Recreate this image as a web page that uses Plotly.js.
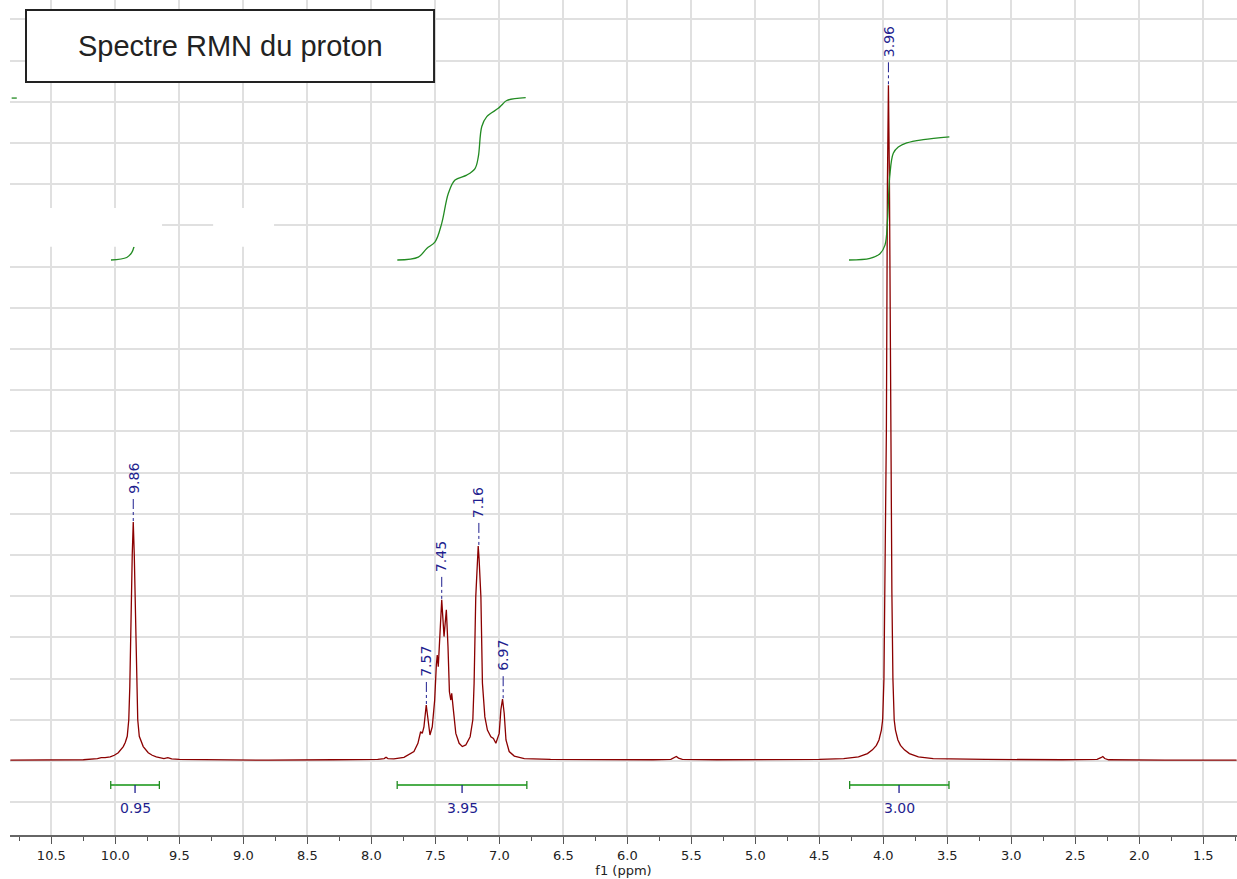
<!DOCTYPE html>
<html>
<head>
<meta charset="utf-8">
<script src="https://cdn.plot.ly/plotly-3.0.1.min.js"></script>
<style>html,body{margin:0;padding:0;background:#fff;}#chart{width:1237px;height:879px;}</style>
</head>
<body>
<div id="chart"></div>
<script>
// ---- Spectrum (chemical shift in ppm, intensity in grid units) ----
const spectrumPpm = [
  10.82, 10.55, 10.25, 10.14, 10.11, 10.08, 10.04, 10.008, 9.977, 9.938, 9.9225, 9.907, 9.895, 9.887, 9.882,
  9.868, 9.86, 9.852, 9.838, 9.833, 9.825, 9.813, 9.7975, 9.782, 9.743, 9.712, 9.68, 9.62, 9.59, 9.56,
  9.50, 9.2, 8.8, 8.3, 7.95, 7.90, 7.885, 7.87, 7.85, 7.824, 7.745, 7.667, 7.636, 7.615, 7.602,
  7.589, 7.571, 7.555, 7.542, 7.524, 7.505, 7.492, 7.485, 7.477, 7.463, 7.450, 7.432, 7.414, 7.401, 7.390,
  7.379, 7.372, 7.359, 7.340, 7.314, 7.289, 7.262, 7.228, 7.207, 7.197, 7.184, 7.173, 7.165, 7.158, 7.144,
  7.132, 7.113, 7.093, 7.066, 7.046, 7.027, 7.001, 6.988, 6.975, 6.962, 6.948, 6.923, 6.883, 6.805, 6.60,
  6.20, 5.80, 5.66, 5.635, 5.617, 5.60, 5.57, 5.30, 4.80, 4.50, 4.31, 4.194, 4.124, 4.085, 4.054,
  4.034, 4.015, 4.005, 3.995, 3.987, 3.976, 3.968, 3.960, 3.952, 3.944, 3.933, 3.925, 3.915, 3.905, 3.886,
  3.866, 3.835, 3.796, 3.726, 3.61, 3.2, 2.6, 2.33, 2.30, 2.285, 2.27, 2.24, 1.8, 1.24
];
const spectrumIntensity = [
  0.02, 0.02, 0.03, 0.06, 0.08, 0.08, 0.10, 0.14, 0.20, 0.35, 0.45, 0.6, 1.0, 1.8, 2.9,
  5.0, 5.8, 5.0, 2.9, 1.8, 1.0, 0.6, 0.45, 0.35, 0.2, 0.14, 0.1, 0.06, 0.08, 0.05,
  0.04, 0.03, 0.02, 0.03, 0.04, 0.06, 0.09, 0.06, 0.05, 0.05, 0.09, 0.23, 0.43, 0.71, 0.67,
  0.83, 1.36, 0.91, 0.63, 0.83, 1.48, 2.33, 2.57, 2.29, 3.26, 3.91, 3.02, 3.67, 2.77, 1.68,
  1.48, 1.64, 1.24, 0.67, 0.43, 0.35, 0.39, 0.59, 1.0, 1.89, 3.99, 4.9, 5.22, 4.9, 3.99,
  1.89, 1.07, 0.75, 0.59, 0.55, 0.43, 0.67, 1.24, 1.5, 1.16, 0.51, 0.23, 0.12, 0.06, 0.04,
  0.03, 0.03, 0.04, 0.08, 0.11, 0.07, 0.04, 0.03, 0.03, 0.04, 0.06, 0.10, 0.18, 0.27, 0.38,
  0.51, 0.75, 1.0, 2.0, 4.07, 8.0, 14.0, 16.4, 14.0, 8.0, 4.07, 2.0, 1.0, 0.75, 0.51,
  0.38, 0.27, 0.18, 0.1, 0.06, 0.04, 0.03, 0.04, 0.08, 0.11, 0.06, 0.03, 0.02, 0.02
];

// ---- Peak picking labels ----
const peakLabels = ['9.86', '7.57', '7.45', '7.16', '6.97', '3.96'];
const peakPpm    = [9.86, 7.57, 7.45, 7.16, 6.97, 3.96];
const peakTop    = [5.8, 1.36, 3.91, 5.22, 1.5, 16.4];

// ---- Integration ranges ----
const integralFrom  = [10.036, 7.798, 4.263];
const integralTo    = [9.656, 6.785, 3.487];
const integralMid   = [9.846, 7.291, 3.877];
const integralValue = ['0.95', '3.95', '3.00'];

// ---- Integral curves (visible parts) ----
const integ1Ppm = [10.034, 9.911, 9.872, 9.854];
const integ1Val = [12.16, 12.22, 12.34, 12.48];
const integ1bPpm = [10.81, 10.77];
const integ1bVal = [16.09, 16.09];
const integ2Ppm = [7.797, 7.633, 7.567, 7.502, 7.45, 7.398, 7.346, 7.255, 7.19, 7.164, 7.137, 7.098, 7.008, 6.981, 6.942, 6.794];
const integ2Val = [12.16, 12.23, 12.44, 12.6, 13.05, 13.78, 14.1, 14.22, 14.38, 14.67, 15.4, 15.64, 15.84, 15.92, 16.03, 16.1];
const integ3Ppm = [4.268, 4.104, 4.026, 3.987, 3.967, 3.95, 3.922, 3.883, 3.817, 3.688, 3.484];
const integ3Val = [12.16, 12.2, 12.31, 12.52, 13.13, 14.18, 14.75, 14.9, 15.0, 15.08, 15.15];

const RED = '#8b0000', GREEN = '#228b22', BARGREEN = '#4cae4c', NAVY = '#1f1f8f';
const FONT = 'DejaVu Sans, Verdana, sans-serif';
const BAR_Y = -0.583, LABEL_Y = -1.14;

const traces = [
  {x: spectrumPpm, y: spectrumIntensity, type: 'scatter', mode: 'lines', line: {color: RED, width: 1.3}, hoverinfo: 'skip'},
  {x: integ1Ppm, y: integ1Val, type: 'scatter', mode: 'lines', line: {color: GREEN, width: 1.3, shape: 'spline'}, hoverinfo: 'skip'},
  {x: integ1bPpm, y: integ1bVal, type: 'scatter', mode: 'lines', line: {color: GREEN, width: 1.3}, hoverinfo: 'skip'},
  {x: integ2Ppm, y: integ2Val, type: 'scatter', mode: 'lines', line: {color: GREEN, width: 1.3, shape: 'spline'}, hoverinfo: 'skip'},
  {x: integ3Ppm, y: integ3Val, type: 'scatter', mode: 'lines', line: {color: GREEN, width: 1.3, shape: 'spline'}, hoverinfo: 'skip'}
];

const shapes = [];
const annotations = [];

peakPpm.forEach((p, i) => {
  shapes.push({type: 'line', xref: 'x', yref: 'y', ysizemode: 'pixel', yanchor: peakTop[i],
    x0: p, x1: p, y0: 1, y1: 25, line: {color: NAVY, width: 1, dash: '3px,3px,3px,3px,10px'}});
  annotations.push({x: p, y: peakTop[i], xref: 'x', yref: 'y', text: peakLabels[i], showarrow: false,
    textangle: -90, yanchor: 'bottom', xanchor: 'center', yshift: 26,
    font: {family: FONT, size: 14, color: NAVY}});
});

integralFrom.forEach((f, i) => {
  const t = integralTo[i];
  shapes.push({type: 'line', xref: 'x', yref: 'y', x0: f, x1: t, y0: BAR_Y, y1: BAR_Y, line: {color: BARGREEN, width: 2}});
  [f, t].forEach(e => shapes.push({type: 'line', xref: 'x', yref: 'y', ysizemode: 'pixel', yanchor: BAR_Y,
    x0: e, x1: e, y0: -4, y1: 4, line: {color: GREEN, width: 1.3}}));
  shapes.push({type: 'line', xref: 'x', yref: 'y', ysizemode: 'pixel', yanchor: BAR_Y,
    x0: integralMid[i], x1: integralMid[i], y0: 0, y1: -8, line: {color: NAVY, width: 1.3}});
  annotations.push({x: integralMid[i], y: LABEL_Y, xref: 'x', yref: 'y', text: integralValue[i], showarrow: false,
    yanchor: 'middle', xanchor: 'center', font: {family: FONT, size: 14, color: NAVY}});
});

// erased patches of the original picture
shapes.push({type: 'rect', xref: 'x', yref: 'y', x0: 10.823, x1: 9.635, y0: 12.48, y1: 13.42, fillcolor: '#ffffff', line: {width: 0}, layer: 'above'});
shapes.push({type: 'rect', xref: 'x', yref: 'y', x0: 9.236, x1: 8.76, y0: 12.48, y1: 13.42, fillcolor: '#ffffff', line: {width: 0}, layer: 'above'});

// title box
shapes.push({type: 'rect', xref: 'paper', yref: 'paper', x0: 0.01304, x1: 0.3456, y0: 0.9018, y1: 0.988,
  fillcolor: '#ffffff', line: {color: '#222222', width: 2}, layer: 'above'});
annotations.push({xref: 'paper', yref: 'paper', x: 0.1793, y: 0.9449, text: 'Spectre RMN du proton', showarrow: false,
  xanchor: 'center', yanchor: 'middle', font: {family: 'Liberation Sans, Arial, sans-serif', size: 29, color: '#222222'}});

const layout = {
  width: 1237, height: 879,
  margin: {l: 10, r: 0, t: 0, b: 44},
  paper_bgcolor: '#ffffff', plot_bgcolor: '#ffffff',
  showlegend: false,
  xaxis: {
    range: [10.823, 1.2367], tick0: 0, dtick: 0.5, tickformat: '.1f',
    ticks: 'outside', ticklen: 7, tickwidth: 1.5, tickcolor: '#555555',
    showline: true, linecolor: '#666666', linewidth: 2,
    showgrid: true, gridcolor: '#e0e0e0', gridwidth: 2, zeroline: false,
    minor: {dtick: 0.25, ticks: 'outside', ticklen: 4, tickcolor: '#555555', tickwidth: 1.2, showgrid: false},
    tickfont: {family: FONT, size: 13, color: '#222222'},
    title: {text: 'f1 (ppm)', standoff: 2, font: {family: FONT, size: 13, color: '#222222'}},
    automargin: false, fixedrange: true
  },
  yaxis: {
    range: [-1.796, 18.47], tick0: 0, dtick: 1, showticklabels: false, ticks: '',
    showgrid: true, gridcolor: '#e0e0e0', gridwidth: 2, zeroline: false, showline: false,
    automargin: false, fixedrange: true
  },
  shapes: shapes,
  annotations: annotations
};

Plotly.newPlot('chart', traces, layout, {displayModeBar: false, staticPlot: true});
</script>
</body>
</html>
